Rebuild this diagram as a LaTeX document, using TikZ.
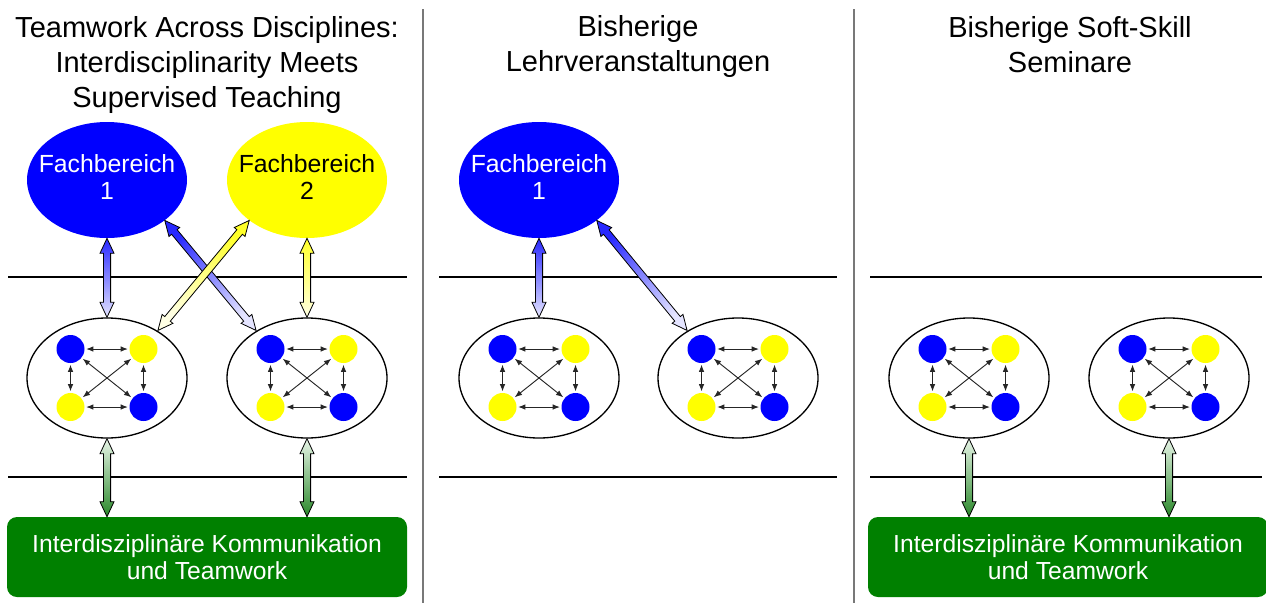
\documentclass[tikz,border=0pt]{standalone}
\usepackage{fontspec}
\setmainfont{Liberation Sans}
\usetikzlibrary{calc,shapes.geometric,arrows.meta}
\definecolor{fblue}{RGB}{0,0,255}
\definecolor{fyellow}{RGB}{255,255,0}
\definecolor{fgreen}{RGB}{0,128,0}
\definecolor{abluedark}{RGB}{40,40,255}
\definecolor{abluelight}{RGB}{228,228,255}
\definecolor{ayeldark}{RGB}{255,255,40}
\definecolor{ayellight}{RGB}{255,255,228}
\definecolor{agrndark}{RGB}{40,135,40}
\definecolor{agrnlight}{RGB}{232,245,232}
\definecolor{sepgray}{RGB}{120,120,120}

\tikzset{
 title/.style={align=center, font=\fontsize{21.75pt}{26.25pt}\selectfont},
 fach/.style={ellipse, inner xsep=-45pt, inner ysep=-25pt, minimum width=120pt, minimum height=87pt, align=center, text depth=4.5pt, font=\fontsize{18.6pt}{20.25pt}\selectfont},
 grp/.style={ellipse, draw=black, line width=1pt, minimum width=120pt, minimum height=90pt, inner sep=0pt},
 dot/.style={circle, inner sep=0pt, minimum size=21pt},
 small/.style={draw=black!85, line width=0.7pt, {Latex[length=5.5pt,width=4.2pt]}-{Latex[length=5.5pt,width=4.2pt]}, shorten >=1pt, shorten <=1pt},
 result/.style={rounded corners=7.5pt, fill=fgreen, text=white, minimum width=300pt, minimum height=60pt, align=center, font=\fontsize{18.5pt}{20.25pt}\selectfont},
 rulebar/.style={draw=black, line width=1pt},
 sepbar/.style={draw=sepgray, line width=1.5pt},
 blockarr/.style={draw=black, line width=0.6pt},
}

% double block arrow: #1 dark end, #2 light end, #3 dark colour, #4 light colour
\newcommand\blockarrow[4]{%
  \path let \p1=($(#2)-(#1)$) in
    \pgfextra{\pgfmathsetmacro\baA{atan2(\y1,\x1)}\pgfmathsetmacro\baL{veclen(\x1,\y1)}%
      \xdef\baAng{\baA}\xdef\baLen{\baL}};
  \pgfmathsetmacro\baShade{\baAng+90}%
  \pgfmathsetmacro\baE{\baLen-11.25}%
  \path[blockarr, shift={(#1)}, rotate=\baAng, top color=#3, bottom color=#4, shading angle=\baShade]
    (0pt,0pt) -- (11.25pt,5.25pt) -- (11.25pt,2.7pt) -- (\baE pt,2.7pt) -- (\baE pt,5.25pt)
    -- (\baLen pt,0pt) -- (\baE pt,-5.25pt) -- (\baE pt,-2.7pt) -- (11.25pt,-2.7pt)
    -- (11.25pt,-5.25pt) -- cycle;
}

% team of four
\newcommand\teamgroup[2]{%
  \node[grp] (#1) at (#2) {};
  \node[dot, fill=fblue] (#1tl) at ($(#2)+(-36.5,-29)$) {};
  \node[dot, fill=fyellow] (#1tr) at ($(#2)+(36.5,-29)$) {};
  \node[dot, fill=fyellow] (#1bl) at ($(#2)+(-36.5,29)$) {};
  \node[dot, fill=fblue] (#1br) at ($(#2)+(36.5,29)$) {};
  \draw[small] (#1tl) -- (#1tr);
  \draw[small] (#1bl) -- (#1br);
  \draw[small] (#1tl) -- (#1bl);
  \draw[small] (#1tr) -- (#1br);
  \draw[small] (#1tl) -- (#1br);
  \draw[small] (#1tr) -- (#1bl);
}

\begin{document}
\begin{tikzpicture}[x=0.75pt,y=-0.75pt]
\useasboundingbox (0,0) rectangle (1266,603);

% separators
\coordinate (s1t) at (423,9); \coordinate (s1b) at (423,603);
\coordinate (s2t) at (854,9); \coordinate (s2b) at (854,603);
\draw[sepbar] (s1t) -- (s1b);
\draw[sepbar] (s2t) -- (s2b);

% horizontal rules
\coordinate (r1a) at (8,277);   \coordinate (r1b) at (407,277);
\coordinate (r2a) at (439,277); \coordinate (r2b) at (837,277);
\coordinate (r3a) at (870,277); \coordinate (r3b) at (1262,277);
\coordinate (q1a) at (8,477);   \coordinate (q1b) at (407,477);
\coordinate (q2a) at (439,477); \coordinate (q2b) at (837,477);
\coordinate (q3a) at (870,477); \coordinate (q3b) at (1262,477);
\draw[rulebar] (r1a) -- (r1b);
\draw[rulebar] (r2a) -- (r2b);
\draw[rulebar] (r3a) -- (r3b);
\draw[rulebar] (q1a) -- (q1b);
\draw[rulebar] (q2a) -- (q2b);
\draw[rulebar] (q3a) -- (q3b);

% titles
\node[title] (t1) at (207,65) {Teamwork Across Disciplines:\\Interdisciplinarity Meets\\Supervised Teaching};
\node[title] (t2) at (638,47) {Bisherige\\Lehrveranstaltungen};
\node[title] (t3) at (1070,45) {Bisherige Soft-Skill\\Seminare};

% Fachbereiche
\node[fach, fill=fblue, text=white] (f1) at (107,180) {Fachbereich\\1};
\node[fach, fill=fyellow, text=black] (f2) at (307,180) {Fachbereich\\2};
\node[fach, fill=fblue, text=white] (pf) at (539,180) {Fachbereich\\1};

% groups
\teamgroup{ga}{107,378}
\teamgroup{gb}{307,378}
\teamgroup{gc}{539,378}
\teamgroup{gd}{738,378}
\teamgroup{ge}{969,378}
\teamgroup{gf}{1169,378}

% result boxes
\node[result] (b1) at (207,557) {Interdisziplinäre Kommunikation\\und Teamwork};
\node[result] (b3) at (1068,557) {Interdisziplinäre Kommunikation\\und Teamwork};

% block arrows
\blockarrow{f1.south}{ga.north}{abluedark}{abluelight}
\blockarrow{f2.south}{gb.north}{ayeldark}{ayellight}
\blockarrow{f1.-35}{gb.137}{abluedark}{abluelight}
\blockarrow{f2.-145}{ga.43}{ayeldark}{ayellight}
\blockarrow{pf.south}{gc.north}{abluedark}{abluelight}
\blockarrow{pf.-35}{gd.137}{abluedark}{abluelight}

\coordinate (ba) at (b1.north -| ga);
\coordinate (bb) at (b1.north -| gb);
\coordinate (be) at (b3.north -| ge);
\coordinate (bf) at (b3.north -| gf);
\blockarrow{ba}{ga.south}{agrndark}{agrnlight}
\blockarrow{bb}{gb.south}{agrndark}{agrnlight}
\blockarrow{be}{ge.south}{agrndark}{agrnlight}
\blockarrow{bf}{gf.south}{agrndark}{agrnlight}
\end{tikzpicture}
\end{document}
